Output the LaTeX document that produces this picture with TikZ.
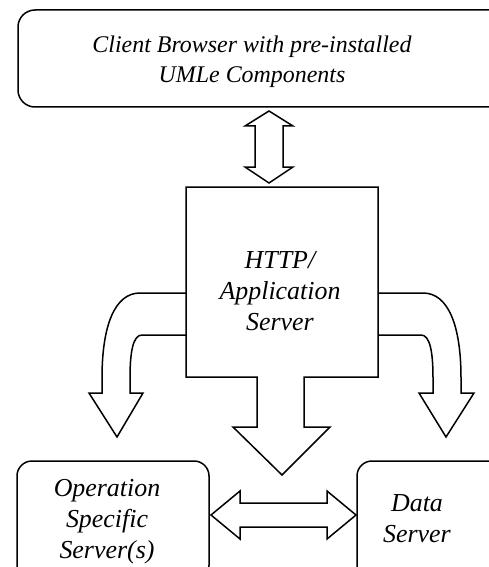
\documentclass[tikz,border=0pt]{standalone}
\usepackage{fontspec}
\setmainfont{Liberation Serif}[ItalicFont={Liberation Serif Italic},BoldFont={Liberation Serif Bold}]
\begin{document}
\begin{tikzpicture}[x=1bp,y=-1bp,
  line join=miter,
  outl/.style={draw=black,line width=1.5bp,fill=white},
  lbl/.style={align=center,inner sep=0pt,font=\itshape\fontsize{26}{31}\selectfont},
  rbox/.style={draw=black,line width=1.5bp,rounded corners=17bp}]
\useasboundingbox (0,0) rectangle (489,567);
\clip (0,0) rectangle (489,567);
% boxes
\draw[rbox] (18,10) rectangle (520,107);
\node[lbl,font=\itshape\fontsize{24}{30}\selectfont] (client) at (252,62) {Client Browser with pre-installed\\UMLe Components};
\draw[rbox,rounded corners=15bp] (17,461) rectangle (209,580);
\node[lbl] (ops) at (107,522) {Operation\\Specific\\Server(s)};
\draw[rbox,rounded corners=15bp] (357,461) rectangle (520,580);
\node[lbl] (data) at (417,519) {Data\\Server};
% left curved arrow
\draw[outl] (186,293) -- (140,293) .. controls (115,293) and (102,325) .. (102,378)
  -- (102,393) -- (89,393) -- (117,437) -- (143,393) -- (130,393) -- (130,378)
  .. controls (130,352) and (133,335) .. (142,335) -- (186,335);
% right curved arrow
\draw[outl] (378,293) -- (423,293) .. controls (448,293) and (461,325) .. (461,378)
  -- (461,393) -- (474,393) -- (446,437) -- (419,393) -- (433,393) -- (433,378)
  .. controls (433,352) and (430,335) .. (421,335) -- (378,335);
% HTTP box with central down arrow
\draw[outl] (257,377) -- (186,377) -- (186,187) -- (378,187) -- (378,377) -- (304,377)
  -- (304,427) -- (330,427) -- (282,475) -- (233,427) -- (257,427) -- cycle;
\fill[white] (258,375) rectangle (303,380);
\node[lbl] (http) at (280,291) {HTTP/\\Application\\Server};
% vertical double arrow
\draw[outl] (269,111) -- (293,126) -- (283,126) -- (283,167) -- (293,167) -- (269,183)
  -- (245,167) -- (255,167) -- (255,126) -- (245,126) -- cycle;
% horizontal double arrow
\draw[outl] (211,515) -- (240,491) -- (240,503) -- (327,503) -- (327,491) -- (356,515)
  -- (327,539) -- (327,527) -- (240,527) -- (240,539) -- cycle;
\end{tikzpicture}
\end{document}
